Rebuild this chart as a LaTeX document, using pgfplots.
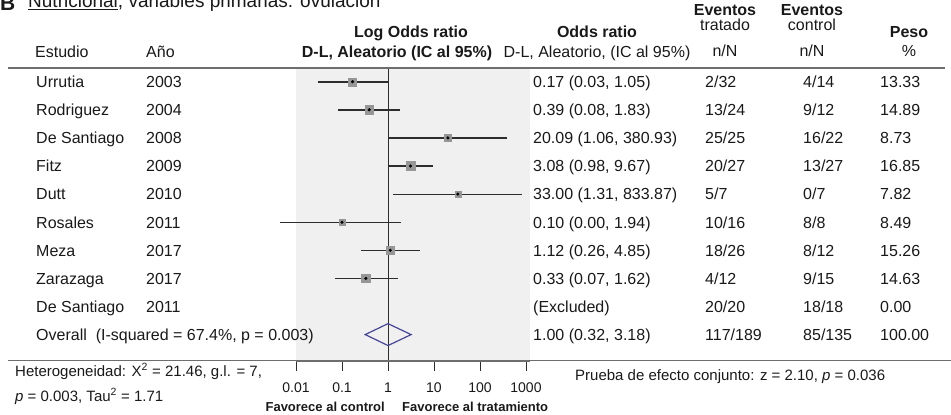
\documentclass[border=0pt]{standalone}
\usepackage{pgfplots}
\pgfplotsset{compat=1.18}
\usepackage{fontspec}
\setmainfont{Liberation Sans}
\definecolor{bgcol}{RGB}{240,240,240}
\definecolor{txt}{RGB}{25,25,25}
\definecolor{rulecol}{RGB}{110,110,110}
\definecolor{cicol}{RGB}{45,45,45}
\definecolor{boxcol}{RGB}{150,150,150}
\definecolor{diacol}{RGB}{70,70,150}
\newcommand{\fs}[1]{\fontsize{#1}{#1}\selectfont}
\newcommand{\studyrow}[7]{%
  \node[anchor=base west] at (36,{87.5+28.1*#1}) {#2};
  \node[anchor=base west] at (146,{87.5+28.1*#1}) {#3};
  \node[anchor=base west] at (533,{87.5+28.1*#1}) {#4};
  \node[anchor=base west] at (705,{87.5+28.1*#1}) {#5};
  \node[anchor=base west] at (803,{87.5+28.1*#1}) {#6};
  \node[anchor=base west] at (880,{87.5+28.1*#1}) {#7};
}
\begin{document}
\begin{tikzpicture}[every node/.style={inner sep=0pt, text=txt, font=\fs{16}}]
\useasboundingbox (0pt,0pt) rectangle (951pt,-415pt);
\clip (0pt,0pt) rectangle (951pt,-415pt);
\begin{axis}[
  at={(296pt,-361pt)}, anchor=south west,
  width=234pt, height=294pt, scale only axis,
  xmode=log, xmin=0.01, xmax=1222,
  ymin=-0.523, ymax=9.94, y dir=reverse,
  axis x line*=bottom, axis y line=none,
  axis background/.style={fill=bgcol},
  x axis line style={rulecol, line width=1.5pt},
  xtick={0.01,0.1,1,10,100,1000},
  xticklabels={0.01,0.1,1,10,100,1000},
  xminorticks=false,
  ytick=\empty,
  major tick length=10pt, tick align=outside,
  tick style={cicol, line width=0.8pt},
  xticklabel style={font=\fs{14}, anchor=base, yshift=-21pt, inner sep=0pt},
  clip=false,
]
% line of no effect
\addplot[cicol, line width=0.8pt] coordinates {(1,-0.523) (1,9.94)};
% confidence intervals
\addplot[cicol, line width=1.6pt] coordinates {(0.03,0) (1.05,0)};
\addplot[cicol, line width=1.6pt] coordinates {(0.08,1) (1.83,1)};
\addplot[cicol, line width=1.4pt] coordinates {(1.06,2) (380.93,2)};
\addplot[cicol, line width=1.6pt] coordinates {(0.98,3) (9.67,3)};
\addplot[cicol, line width=1.1pt] coordinates {(1.31,4) (833.87,4)};
\addplot[cicol, line width=1.1pt] coordinates {(0.0045,5) (1.94,5)};
\addplot[cicol, line width=1.5pt] coordinates {(0.26,6) (4.85,6)};
\addplot[cicol, line width=1.5pt] coordinates {(0.07,7) (1.62,7)};
% weight boxes
\addplot[only marks, mark=square*, mark options={fill=boxcol, draw=boxcol}, mark size=4.0pt] coordinates {(0.17,0)};
\addplot[only marks, mark=square*, mark options={fill=boxcol, draw=boxcol}, mark size=4.25pt] coordinates {(0.39,1)};
\addplot[only marks, mark=square*, mark options={fill=boxcol, draw=boxcol}, mark size=3.25pt] coordinates {(20.09,2)};
\addplot[only marks, mark=square*, mark options={fill=boxcol, draw=boxcol}, mark size=4.5pt] coordinates {(3.08,3)};
\addplot[only marks, mark=square*, mark options={fill=boxcol, draw=boxcol}, mark size=3.1pt] coordinates {(33.00,4)};
\addplot[only marks, mark=square*, mark options={fill=boxcol, draw=boxcol}, mark size=3.2pt] coordinates {(0.10,5)};
\addplot[only marks, mark=square*, mark options={fill=boxcol, draw=boxcol}, mark size=4.3pt] coordinates {(1.12,6)};
\addplot[only marks, mark=square*, mark options={fill=boxcol, draw=boxcol}, mark size=4.2pt] coordinates {(0.33,7)};
% point estimates
\addplot[only marks, mark=*, mark size=1.4pt, mark options={fill=black, draw=black}] coordinates {
(0.17,0) (0.39,1) (20.09,2) (3.08,3) (33.00,4) (0.10,5) (1.12,6) (0.33,7)};
% overall diamond
\addplot[diacol, line width=1.2pt] coordinates {(0.32,9) (1,8.61) (3.18,9) (1,9.39)} -- cycle;
\end{axis}
\draw[rulecol, line width=2pt] (8pt,-67.5pt) -- (945pt,-67.5pt);
\draw[rulecol, line width=1.5pt] (8pt,-360.5pt) -- (951pt,-360.5pt);
\begin{scope}[x=1pt,y=-1pt]
% title
\node[anchor=base west, font=\fs{21}\bfseries] at (0,10.7) {B};
\node[anchor=base west, font=\fs{19}] at (28,7.3) {\underline{Nutricional}, variables primarias: ovulación};
% headers
\node[anchor=base west] at (35,57) {Estudio};
\node[anchor=base west] at (146,57) {Año};
\node[anchor=base, font=\fs{16}\bfseries] at (411,37) {Log Odds ratio};
\node[anchor=base, font=\fs{16}\bfseries] at (397,57) {D-L, Aleatorio (IC al 95\%)};
\node[anchor=base, font=\fs{16}\bfseries] at (597,37) {Odds ratio};
\node[anchor=base] at (597,57) {D-L, Aleatorio, (IC al 95\%)};
\node[anchor=base, font=\fs{16}\bfseries] at (725,15.5) {Eventos};
\node[anchor=base] at (725,30.5) {tratado};
\node[anchor=base] at (725,56.5) {n/N};
\node[anchor=base, font=\fs{16}\bfseries] at (812,15.5) {Eventos};
\node[anchor=base] at (812,30.5) {control};
\node[anchor=base] at (812,56.5) {n/N};
\node[anchor=base, font=\fs{16}\bfseries] at (909,37) {Peso};
\node[anchor=base] at (909,56.5) {\%};
% rows
\studyrow{0}{Urrutia}{2003}{0.17 (0.03, 1.05)}{2/32}{4/14}{13.33}
\studyrow{1}{Rodriguez}{2004}{0.39 (0.08, 1.83)}{13/24}{9/12}{14.89}
\studyrow{2}{De Santiago}{2008}{20.09 (1.06, 380.93)}{25/25}{16/22}{8.73}
\studyrow{3}{Fitz}{2009}{3.08 (0.98, 9.67)}{20/27}{13/27}{16.85}
\studyrow{4}{Dutt}{2010}{33.00 (1.31, 833.87)}{5/7}{0/7}{7.82}
\studyrow{5}{Rosales}{2011}{0.10 (0.00, 1.94)}{10/16}{8/8}{8.49}
\studyrow{6}{Meza}{2017}{1.12 (0.26, 4.85)}{18/26}{8/12}{15.26}
\studyrow{7}{Zarazaga}{2017}{0.33 (0.07, 1.62)}{4/12}{9/15}{14.63}
\studyrow{8}{De Santiago}{2011}{(Excluded)}{20/20}{18/18}{0.00}
\studyrow{9}{Overall\ \ (I-squared = 67.4\%, p = 0.003)}{}{1.00 (0.32, 3.18)}{117/189}{85/135}{100.00}
% footer
\node[anchor=base west, font=\fs{15}] at (15,376) {Heterogeneidad: X\textsuperscript{2} = 21.46, g.l. = 7,};
\node[anchor=base west, font=\fs{15}] at (15,401) {\textit{p} = 0.003, Tau\textsuperscript{2} = 1.71};
\node[anchor=base west, font=\fs{15}] at (575,380) {Prueba de efecto conjunto: z = 2.10, \textit{p} = 0.036};
\node[anchor=base east, font=\fs{13}\bfseries] at (385,411) {Favorece al control};
\node[anchor=base west, font=\fs{13}\bfseries] at (402,411) {Favorece al tratamiento};
\end{scope}
\end{tikzpicture}
\end{document}
